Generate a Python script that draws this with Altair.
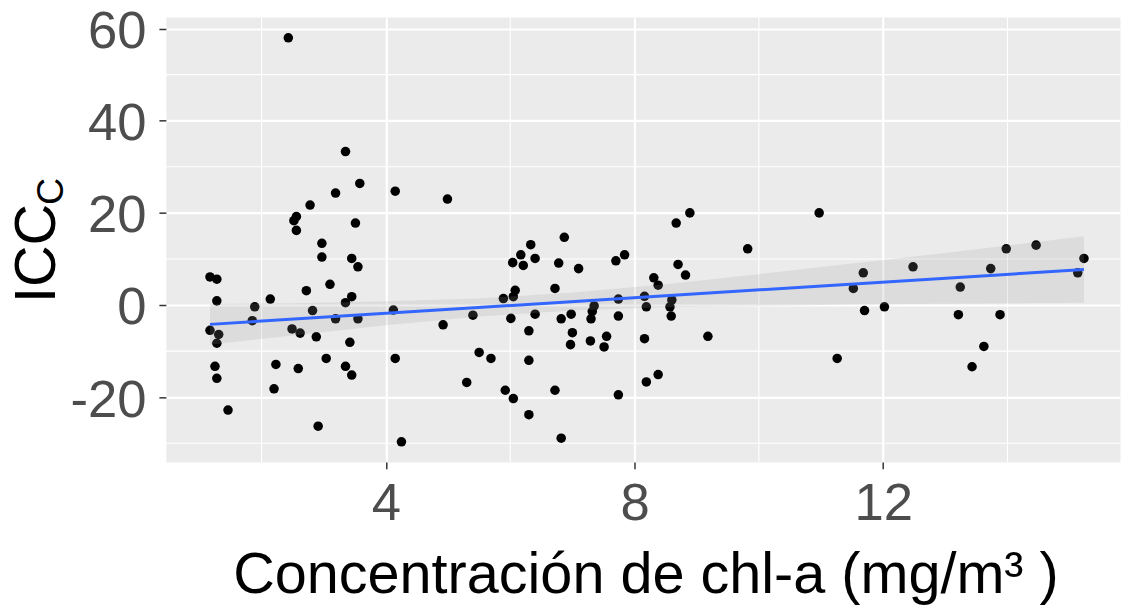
import altair as alt
import pandas as pd

# ---- data ----
chl = [2.43, 3.35, 3.58, 3.19, 4.15, 4.99, 2.78, 2.56, 2.52, 2.56, 3.51,
       2.97, 2.97, 3.45, 3.55, 1.17, 1.28, 3.10, 2.72, 2.14, 1.28, 3.45, 3.35,
       1.89, 2.82, 4.12, 1.85, 3.19, 3.55, 5.40, 4.92, 1.17, 1.31, 1.28, 2.49,
       2.62, 2.88, 3.42, 1.25, 1.28, 2.23, 2.59, 3.04, 4.15, 3.35, 3.45, 2.20,
       5.50, 5.30, 1.46, 2.91, 4.25,
       8.89, 8.67, 9.82, 6.87, 6.33, 6.17, 6.04, 6.21, 6.40, 6.78, 7.10, 7.70,
       7.84, 8.70, 8.82, 8.31, 8.38, 6.72, 6.08, 5.89, 6.05, 7.74, 8.16, 8.19,
       8.60, 8.57, 8.59, 7.35, 7.32, 7.30, 7.74, 6.98, 6.82, 6.40, 6.01, 6.30,
       7.00, 6.97, 7.29, 7.55, 7.51, 8.16, 9.18, 5.69, 6.30, 5.92, 6.05, 6.72,
       6.30, 6.82, 7.74, 8.19, 8.38,
       10.97, 11.68, 11.52, 11.70, 12.02, 11.26, 12.48, 13.24, 13.21, 13.73,
       13.98, 14.46, 13.88, 13.62, 13.43, 15.23, 15.13]
icc = [58.0, 33.3, 26.4, 24.3, 24.7, 23.0, 21.7, 19.2, 18.3, 16.2, 17.8,
       13.4, 10.4, 10.1, 8.3, 6.1, 5.6, 4.5, 3.1, 1.3, 0.9, 1.8, 0.5,
       -0.4, -1.2, -1.1, -3.4, -3.0, -3.0, -2.2, -4.3, -5.5, -6.4, -8.3, -5.2,
       -6.1, -6.9, -8.1, -13.3, -15.9, -12.9, -13.8, -11.6, -11.6, -13.3, -15.2, -18.2,
       -10.3, -16.8, -22.8, -26.3, -29.7,
       20.0, 17.8, 12.2, 14.7, 13.1, 10.9, 9.2, 8.6, 10.1, 9.1, 7.9, 9.6,
       10.9, 8.8, 6.5, 5.9, 4.3, 3.6, 3.2, 1.4, 1.8, 1.3, 1.9, -0.4,
       1.1, -0.4, -2.4, -0.2, -1.4, -3.0, -2.4, -2.0, -3.0, -2.0, -2.9, -5.6,
       -6.0, -8.6, -7.8, -6.8, -9.1, -7.3, -6.8, -11.6, -12.0, -18.5, -20.3, -18.5,
       -23.8, -28.9, -19.5, -16.7, -15.1,
       20.0, 7.0, 3.6, -1.2, -0.4, -11.6, 8.3, 3.9, -2.1, 7.9,
       12.2, 13.0, -2.1, -9.0, -13.4, 10.1, 7.0]

# fitted line and its confidence band
FIT_X = [1.17, 15.23]
FIT_Y = [-4.2, 7.7]
BAND_X = [1.17, 2.5, 4.0, 5.5, 7.0, 8.5, 10.0, 11.5, 13.0, 15.23]
BAND_LO = [-8.6, -6.6, -4.4, -2.5, -1.2, -0.5, -0.2, 0.1, 0.3, 0.5]
BAND_HI = [0.2, 0.4, 0.8, 1.4, 2.7, 4.5, 6.7, 9.0, 11.3, 14.9]

X_BREAKS = [4, 8, 12]
Y_BREAKS = [-20, 0, 20, 40, 60]
X_MINOR = [2, 6, 10, 14]
Y_MINOR = [-30, -10, 10, 30, 50]
X_DOMAIN = [0.46, 15.81]
Y_DOMAIN = [-34.05, 62.5]

X_TITLE = "Concentración de chl-a (mg/m³ )"
Y_TITLE = "ICC"
Y_SUB = "C"

FONT = "Liberation Sans"

df = pd.DataFrame({"chl": chl, "icc": icc})
fit_df = pd.DataFrame({"chl": FIT_X, "fit": FIT_Y})
band_df = pd.DataFrame({"chl": BAND_X, "lo": BAND_LO, "hi": BAND_HI})

xscale = alt.Scale(domain=X_DOMAIN, nice=False, zero=False)
yscale = alt.Scale(domain=Y_DOMAIN, nice=False, zero=False)

xaxis = alt.Axis(values=X_BREAKS, title=X_TITLE, grid=True, gridColor="white",
                 gridWidth=2.2, domain=False, tickColor="#333333", tickSize=7,
                 tickWidth=1.5, labelFontSize=53, labelColor="#4D4D4D",
                 labelFont=FONT, labelPadding=9, labelOverlap=False,
                 labelFlush=False, labelExpr="'' + datum.value",
                 titleFontSize=58, titleFont=FONT, titleColor="black",
                 titleFontWeight="normal", titleBaseline="alphabetic",
                 titleY=132, titleX=483)
yaxis = alt.Axis(values=Y_BREAKS, title=Y_TITLE, grid=True, gridColor="white",
                 gridWidth=2.2, domain=False, tickColor="#333333", tickSize=7,
                 tickWidth=1.5, labelFontSize=53, labelColor="#4D4D4D",
                 labelFont=FONT, labelPadding=13, labelOverlap=False,
                 labelFlush=False, labelOffset=3, labelExpr="'' + datum.value",
                 titleFontSize=58, titleFont=FONT, titleColor="black",
                 titleFontWeight="normal", titleAngle=270, titleAlign="center",
                 titleBaseline="alphabetic", titleX=-112, titleY=237.5)

points = alt.Chart(df).mark_circle(color="black", size=92, opacity=1).encode(
    x=alt.X("chl:Q", scale=xscale, axis=xaxis),
    y=alt.Y("icc:Q", scale=yscale, axis=yaxis))

minor_x = alt.Chart(pd.DataFrame({"chl": X_MINOR})).mark_rule(
    color="white", strokeWidth=1.1).encode(
    x=alt.X("chl:Q", scale=xscale, axis=xaxis))
minor_y = alt.Chart(pd.DataFrame({"icc": Y_MINOR})).mark_rule(
    color="white", strokeWidth=1.1).encode(
    y=alt.Y("icc:Q", scale=yscale, axis=yaxis))

band_layer = alt.Chart(band_df).mark_area(color="#999999", opacity=0.18).encode(
    x=alt.X("chl:Q", scale=xscale, axis=xaxis),
    y=alt.Y("lo:Q", scale=yscale, axis=yaxis),
    y2="hi:Q")

line = alt.Chart(fit_df).mark_line(color="#3366FF", strokeWidth=3).encode(
    x=alt.X("chl:Q", scale=xscale, axis=xaxis),
    y=alt.Y("fit:Q", scale=yscale, axis=yaxis))

sub = alt.Chart(pd.DataFrame({"t": [Y_SUB]})).mark_text(
    angle=270, fontSize=38, font=FONT, baseline="alphabetic", align="center",
    color="black").encode(
    text="t:N", x=alt.value(-104), y=alt.value(175.5))

chart = alt.layer(minor_x, minor_y, points, band_layer, line, sub).properties(
    width=961, height=448,
    autosize=alt.AutoSizeParams(type="none"),
    padding={"left": 159, "top": 7, "right": 1, "bottom": 142},
).configure_view(fill="#EBEBEB", strokeOpacity=0)

chart.save("out.html", embed_options={"renderer": "svg", "actions": False})
